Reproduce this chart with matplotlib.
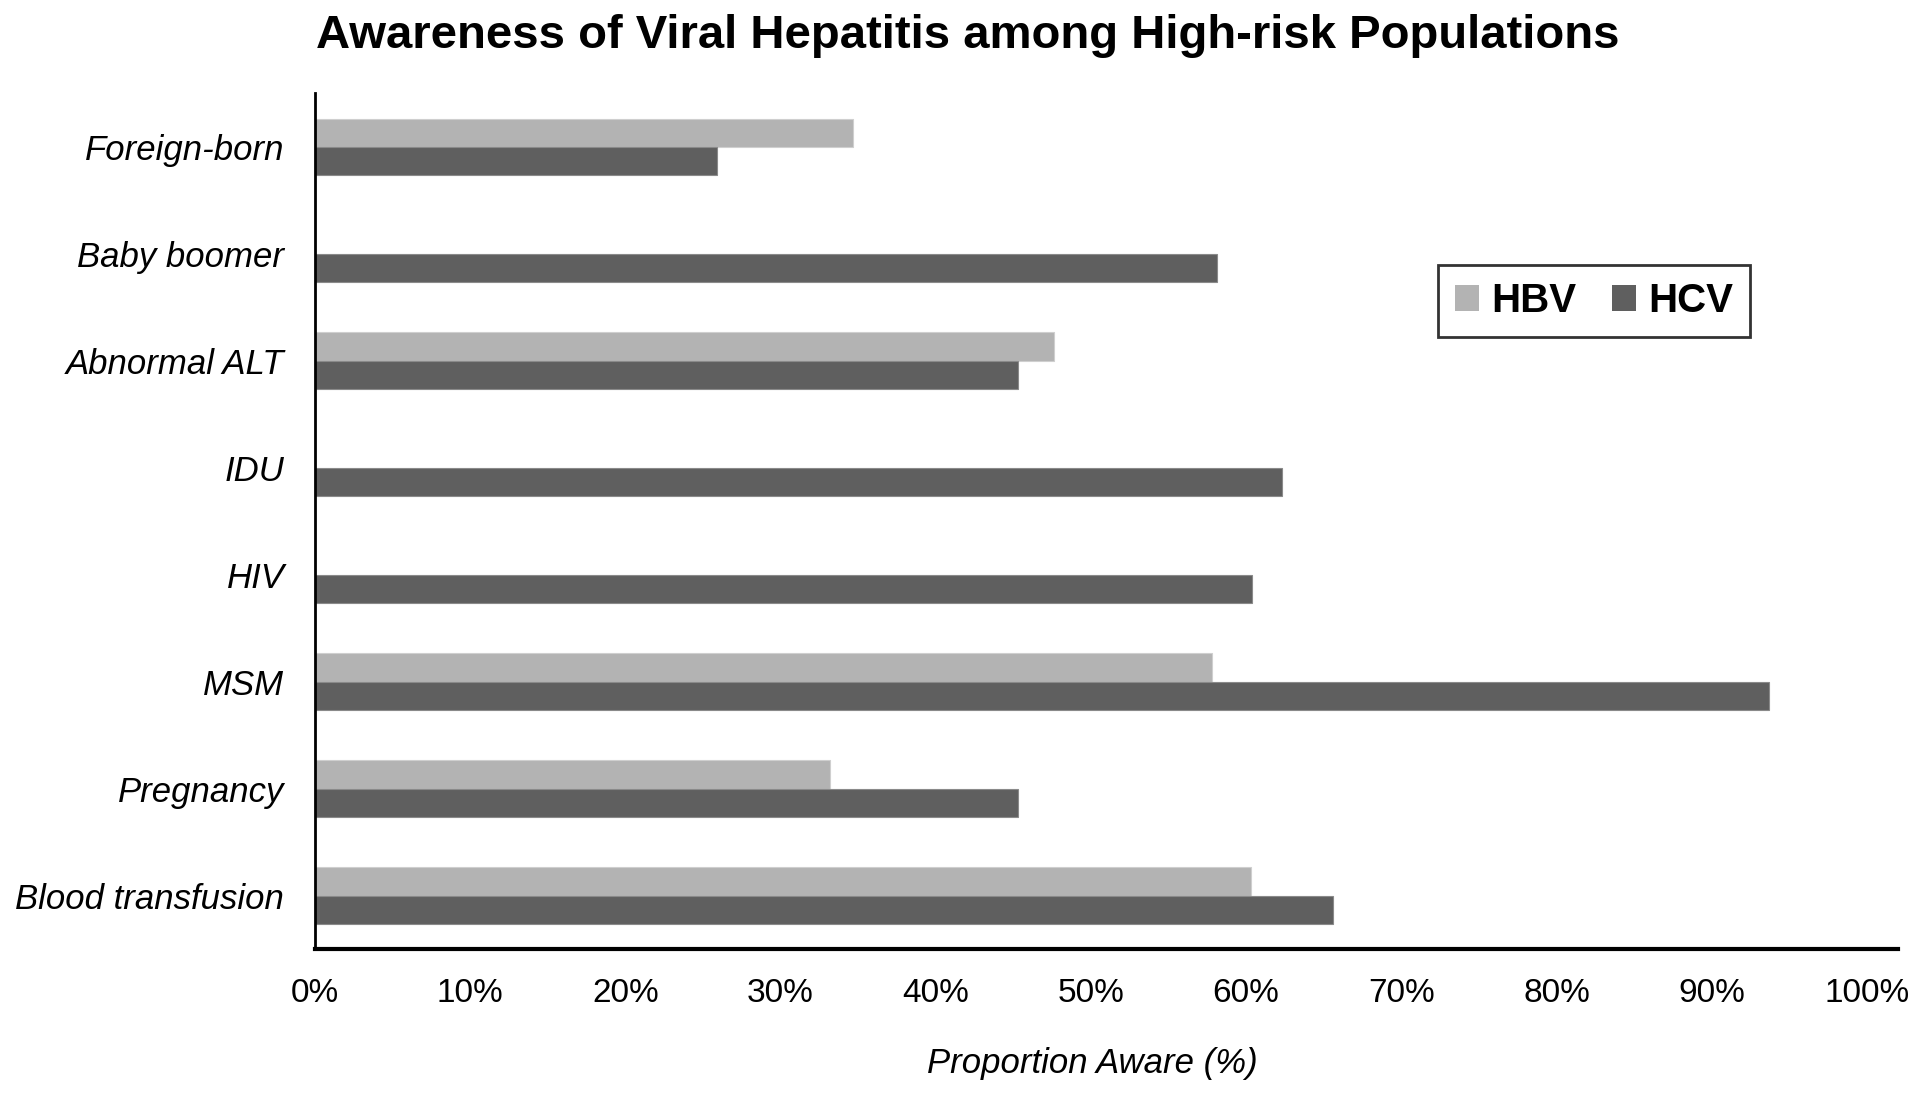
import matplotlib
matplotlib.use("Agg")
import matplotlib.pyplot as plt
import numpy as np
from matplotlib.patches import Patch

categories = ["Foreign-born", "Baby boomer", "Abnormal ALT", "IDU", "HIV",
              "MSM", "Pregnancy", "Blood transfusion"]
hbv = [34.7, np.nan, 47.6, np.nan, np.nan, 57.8, 33.2, 60.3]
hcv = [25.9, 58.1, 45.3, 62.3, 60.4, 93.7, 45.3, 65.6]
xticks = [0, 10, 20, 30, 40, 50, 60, 70, 80, 90, 100]
xticklabels = [f"{t}%" for t in xticks]

plt.rcParams['font.family'] = ['Liberation Sans', 'DejaVu Sans']

fig = plt.figure(figsize=(19.2, 10.99), dpi=100)
ax = fig.add_axes([0.164, 0.1365, 0.8245, 0.7785])

c_hbv = "#b3b3b3"
c_hcv = "#5f5f5f"
h = 0.265
y = np.arange(len(categories))
hbv_vals = np.array(hbv, dtype=float)
mask = ~np.isnan(hbv_vals)
ax.barh(y[mask] - h / 2, hbv_vals[mask], height=h, color=c_hbv,
        edgecolor="#cfcfcf", linewidth=0.8)
ax.barh(y + h / 2, hcv, height=h, color=c_hcv, edgecolor="#8a8a8a", linewidth=0.8)

ax.set_ylim(len(categories) - 0.5, -0.5)
ax.set_xlim(0, 102)
ax.set_yticks(y)
ax.set_yticklabels(categories, fontsize=25, style="italic")
ax.set_xticks(xticks)
ax.set_xticklabels(xticklabels, fontsize=24)
ax.tick_params(axis="both", length=0)
ax.tick_params(axis="x", pad=21)
ax.tick_params(axis="y", pad=22)

for s in ["top", "right"]:
    ax.spines[s].set_visible(False)
ax.spines["left"].set_linewidth(2)
ax.spines["bottom"].set_linewidth(3)
ax.spines["left"].set_color("black")
ax.spines["bottom"].set_color("black")

fig.text(316 / 1920, 1 - 36 / 1099, "Awareness of Viral Hepatitis among High-risk Populations",
         fontsize=34, fontweight="bold", ha="left", va="center")
fig.text(1092 / 1920, 1 - 1063 / 1099, "Proportion Aware (%)", fontsize=25,
         style="italic", ha="center", va="center")

handles = [Patch(facecolor=c_hbv, label="HBV"), Patch(facecolor=c_hcv, label="HCV")]
leg = fig.legend(handles=handles, loc="center", bbox_to_anchor=(1594 / 1920, 1 - 301 / 1099),
                 ncol=2, frameon=True, fancybox=False, prop={"weight": "bold", "size": 29},
                 handlelength=0.6, handleheight=0.6, handletextpad=0.3, columnspacing=0.9,
                 borderpad=0.42, edgecolor="black")
leg.get_frame().set_linewidth(2)

fig.savefig("out.png", dpi=100, facecolor="white")
